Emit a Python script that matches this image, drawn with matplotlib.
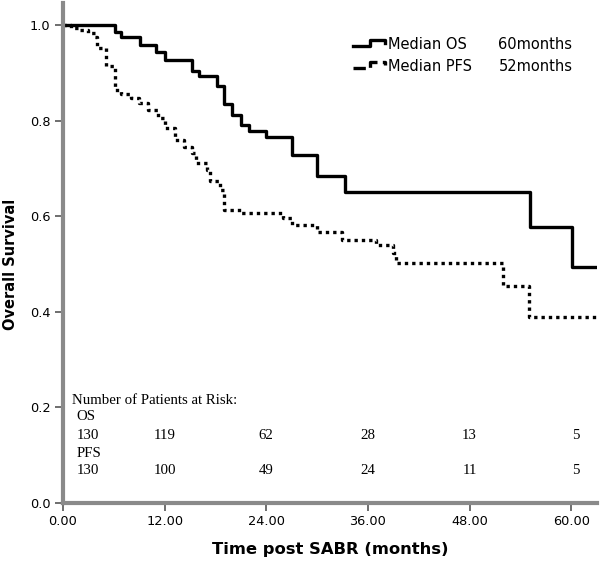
import numpy as np
import matplotlib
matplotlib.use("Agg")
import matplotlib.pyplot as plt
from matplotlib.legend_handler import HandlerBase
from matplotlib.lines import Line2D

# Kaplan-Meier steps (months, survival)
os_t = [0, 6.1, 6.9, 9.1, 11.0, 12.0, 15.2, 16.1, 18.2, 19.0, 20.0, 21.0, 22.0,
        24.0, 27.0, 30.0, 33.3, 55.1, 60.1, 63.0]
os_s = [1.0, 0.985, 0.976, 0.959, 0.943, 0.927, 0.904, 0.893, 0.873, 0.835, 0.813,
        0.792, 0.778, 0.766, 0.729, 0.685, 0.650, 0.577, 0.495, 0.495]

pfs_t = [0, 1.0, 2.0, 3.0, 3.8, 4.0, 5.1, 6.1, 6.9, 8.0, 9.0, 10.0, 11.2, 12.0,
         13.2, 14.3, 15.2, 15.7, 17.0, 17.3, 18.5, 19.0, 21.0, 26.0, 27.0, 30.0,
         33.0, 37.0, 39.0, 39.3, 52.0, 55.0, 63.0]
pfs_s = [1.0, 0.995, 0.99, 0.983, 0.975, 0.952, 0.914, 0.865, 0.856, 0.848, 0.838,
         0.823, 0.806, 0.785, 0.760, 0.746, 0.732, 0.711, 0.697, 0.673, 0.655,
         0.614, 0.607, 0.597, 0.582, 0.568, 0.551, 0.540, 0.523, 0.502, 0.454,
         0.390, 0.390]

legend_names = ['Median OS', 'Median PFS']
medians = ['60months', '52months']

risk_t = [3.0, 12, 24, 36, 48, 60.5]
risk_os = [130, 119, 62, 28, 13, 5]
risk_pfs = [130, 100, 49, 24, 11, 5]

xticks = [0, 12, 24, 36, 48, 60]
yticks = [0.0, 0.2, 0.4, 0.6, 0.8, 1.0]


class StepHandler(HandlerBase):
    # SPSS style legend key: a small step
    def create_artists(self, legend, orig_handle, xdescent, ydescent,
                       width, height, fontsize, trans):
        x0, y0 = -xdescent, -ydescent
        xs = [x0, x0 + 0.52 * width, x0 + 0.52 * width, x0 + width, x0 + width]
        ys = [y0 + 0.3 * height, y0 + 0.3 * height, y0 + 0.85 * height,
              y0 + 0.85 * height, y0 + 0.55 * height]
        l = Line2D(xs, ys, color=orig_handle.get_color(), lw=orig_handle.get_linewidth(),
                   ls=orig_handle.get_linestyle())
        l.set_transform(trans)
        return [l]


fig = plt.figure(figsize=(6, 5.62), dpi=100)
ax = fig.add_axes([0.105, 0.105, 0.89, 0.89])

l1, = ax.step(os_t, os_s, where='post', color='black', lw=2.4, label=legend_names[0])
l2, = ax.step(pfs_t, pfs_s, where='post', color='black', lw=2.4, ls=(0, (1, 1.2)),
              label=legend_names[1])

ax.set_xlim(0, 63.05)
ax.set_ylim(0, 1.047)
ax.set_xticks(xticks)
ax.set_xticklabels(['%.2f' % v for v in xticks])
ax.set_yticks(yticks)
ax.set_yticklabels(['%.1f' % v for v in yticks])
ax.tick_params(labelsize=9.3, length=6, width=1.2, color='#555555', pad=3)

for s in ['top', 'right']:
    ax.spines[s].set_visible(False)
for s in ['left', 'bottom']:
    ax.spines[s].set_color('#8a8a8a')
    ax.spines[s].set_linewidth(3)

ax.set_xlabel('Time post SABR (months)', fontsize=11.8, fontweight='bold', labelpad=10)
ax.set_ylabel('Overall Survival', fontsize=10.5, fontweight='bold')
ax.yaxis.set_label_coords(-0.085, 0.478)

ax.legend(handles=[l1, l2], handler_map={Line2D: StepHandler()},
          loc='upper left', bbox_to_anchor=(0.53, 0.947), frameon=False,
          borderpad=0, fontsize=10.5, handlelength=2.2, handletextpad=0.15,
          labelspacing=0.5)
ax.text(51.4, 0.959, medians[0], fontsize=10.5, va='center')
ax.text(51.4, 0.913, medians[1], fontsize=10.5, va='center')

# number at risk table
serif = 'Liberation Serif'
ax.text(1.1, 0.215, 'Number of Patients at Risk:', family=serif, fontsize=10.7, va='center')
ax.text(1.6, 0.18, 'OS', family=serif, fontsize=10.7, va='center')
ax.text(1.6, 0.104, 'PFS', family=serif, fontsize=10.7, va='center')
for t, a, b in zip(risk_t, risk_os, risk_pfs):
    ax.text(t, 0.142, str(a), family=serif, fontsize=10.7, va='center', ha='center')
    ax.text(t, 0.068, str(b), family=serif, fontsize=10.7, va='center', ha='center')

fig.savefig('out.png', dpi=100)
